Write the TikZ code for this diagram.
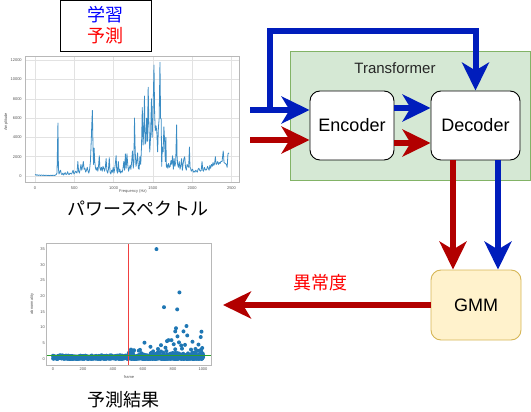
\documentclass[tikz,border=0pt]{standalone}
\usepackage{fontspec}
\setmainfont{Liberation Sans}
\newfontfamily\jp{Noto Sans CJK JP}
\usetikzlibrary{arrows.meta}
\definecolor{bluec}{HTML}{001DBC}
\definecolor{redc}{HTML}{B20000}
\definecolor{trfill}{HTML}{D5E8D4}
\definecolor{trdraw}{HTML}{82B366}
\definecolor{gfill}{HTML}{FFF2CC}
\definecolor{gdraw}{HTML}{D6B656}
\definecolor{mplblue}{HTML}{1F77B4}
\definecolor{mplgreen}{HTML}{2CA02C}
\definecolor{mplred}{HTML}{F04040}
\definecolor{linec}{HTML}{3A8CC4}
\definecolor{gridc}{HTML}{E2E2E2}
\definecolor{framec}{HTML}{B8B8B8}
\definecolor{tickc}{HTML}{555555}
\tikzset{
  flow/.style={line width=6pt, -{Stealth[length=28pt,width=27pt,inset=8pt]}},
  block/.style={draw=black, fill=white, rounded corners=10pt, line width=0.9pt,
    font=\fontsize{18}{20}\selectfont, inner sep=0pt},
  tick/.style={font=\fontsize{4}{5}\selectfont, text=tickc, inner sep=0.5pt},
  jptext/.style={font=\jp\fontsize{18}{20}\selectfont, inner sep=0pt},
  dot/.style={fill=mplblue}
}
\begin{document}
\begin{tikzpicture}[x=1pt,y=-1pt]
\useasboundingbox (0,0) rectangle (531,412);
% legend
\node[draw=black, line width=0.9pt, minimum width=91pt, minimum height=51pt, inner sep=0pt,
  align=center, font=\jp\fontsize{18}{22}\selectfont] (legend) at (105.5,25.5)
  {\textcolor{blue}{学習}\\[-1pt]\textcolor{red}{予測}};
% ---------- spectrum plot ----------
\begin{scope}[shift={(35,176)}, x=0.0786pt, y=0.00965pt]
  \foreach \f in {0,500,...,2500} \draw[gridc, line width=0.6pt] (\f,-622) -- (\f,12435);
  \foreach \a in {0,2000,...,12000} \draw[gridc, line width=0.6pt] (-127,\a) -- (2595,\a);
  \foreach \f in {0,500,...,2500} \node[tick, anchor=north] at (\f,-1000) {\f};
  \foreach \a in {0,2000,...,12000} \node[tick, anchor=east] at (-160,\a) {\a};
  \draw[linec, line width=0.8pt, line join=round]
  (0,100)--(10,150)--(20,80)--(30,120)--(40,60)--(50,100)--(60,90)--(70,50)--(80,110)--(90,70)--(100,60)--(110,100)--(120,40)--(130,80)--(140,60)--(150,90)--(160,50)--(170,70)--(180,40)--(190,60)--(200,80)--(210,50)--(220,70)--(230,60)--(240,90)--(250,50)--(260,100)--(270,150)--(280,300)--(292,5500)--(298,800)--(305,200)--(315,400)--(325,600)--(335,200)--(345,150)--(355,300)--(365,100)--(375,250)--(385,350)--(395,150)--(405,200)--(415,450)--(425,200)--(435,150)--(445,300)--(455,250)--(465,200)--(475,400)--(485,600)--(495,200)--(505,300)--(515,500)--(525,400)--(535,300)--(545,1500)--(555,500)--(565,300)--(575,700)--(585,1200)--(595,600)--(605,1000)--(615,1500)--(625,700)--(635,800)--(645,400)--(655,600)--(665,900)--(675,500)--(685,300)--(695,700)--(705,1500)--(715,3500)--(722,5200)--(730,6800)--(738,3000)--(745,1200)--(752,2900)--(760,1500)--(770,800)--(780,600)--(790,900)--(800,500)--(810,1200)--(818,2100)--(826,800)--(835,600)--(845,900)--(855,500)--(865,1000)--(875,800)--(885,500)--(895,900)--(905,1800)--(915,500)--(925,300)--(935,700)--(945,1900)--(955,400)--(965,200)--(975,600)--(985,400)--(995,900)--(1005,300)--(1015,800)--(1025,1500)--(1032,2100)--(1040,600)--(1050,300)--(1060,1500)--(1070,400)--(1080,700)--(1090,300)--(1100,500)--(1110,400)--(1120,800)--(1130,1500)--(1140,600)--(1150,2300)--(1160,800)--(1170,2300)--(1180,1200)--(1190,500)--(1200,800)--(1210,1100)--(1220,700)--(1230,1500)--(1240,2600)--(1250,800)--(1258,1400)--(1266,6000)--(1275,2500)--(1285,1000)--(1295,1500)--(1305,2400)--(1315,800)--(1325,700)--(1335,2000)--(1345,1200)--(1355,3000)--(1365,7100)--(1375,3200)--(1385,5000)--(1393,8300)--(1400,3300)--(1410,3500)--(1420,6000)--(1430,3600)--(1440,9200)--(1450,5000)--(1460,2500)--(1470,4000)--(1482,8000)--(1490,4000)--(1500,6000)--(1514,11500)--(1522,6500)--(1530,4700)--(1540,5200)--(1550,4600)--(1560,2500)--(1570,5000)--(1580,6000)--(1590,11800)--(1598,6000)--(1605,5900)--(1612,1000)--(1620,3000)--(1630,2500)--(1640,5100)--(1650,3500)--(1658,1500)--(1665,4000)--(1672,900)--(1680,1200)--(1690,800)--(1700,1300)--(1710,900)--(1720,1000)--(1730,1600)--(1740,1200)--(1750,2100)--(1760,700)--(1770,1800)--(1780,1000)--(1790,1400)--(1802,5300)--(1808,2000)--(1815,1200)--(1825,900)--(1835,1500)--(1845,700)--(1855,1100)--(1865,1800)--(1875,600)--(1885,1300)--(1895,1800)--(1905,2000)--(1915,900)--(1925,600)--(1935,1200)--(1945,1000)--(1955,900)--(1965,3000)--(1972,900)--(1980,800)--(1988,500)--(1995,600)--(2005,700)--(2015,400)--(2025,500)--(2035,400)--(2045,600)--(2055,500)--(2065,400)--(2075,700)--(2085,800)--(2095,600)--(2105,500)--(2115,600)--(2125,1500)--(2135,600)--(2145,500)--(2155,900)--(2165,700)--(2175,600)--(2185,700)--(2195,1000)--(2205,800)--(2215,600)--(2225,1100)--(2235,800)--(2245,1200)--(2255,1000)--(2265,1400)--(2275,1100)--(2285,1300)--(2295,2000)--(2305,1200)--(2315,1300)--(2325,1500)--(2335,1200)--(2345,1400)--(2355,1300)--(2365,1500)--(2380,1500)--(2395,2600)--(2405,1400)--(2420,1300)--(2435,1200)--(2445,900)--(2455,2300)--(2468,2400);
\end{scope}
\draw[framec, line width=0.8pt] (25,56) rectangle (239,182);
\node[tick, anchor=north] (freq) at (133,189) {Frequency (Hz)};
\node[tick, rotate=90] (ampl) at (6,122) {Amplitude};
\node[jptext] (spec) at (138,209) {パワースペクトル};
% ---------- scatter plot ----------
\begin{scope}[shift={(53,359)}, x=0.15pt, y=3.14pt]
  \foreach \v in {0,5,...,35} \node[tick, anchor=east] at (-50,\v) {\v};
  \foreach \f in {0,200,...,1000} \node[tick, anchor=north] at (\f,-2.6) {\f};
  \pgfmathsetseed{7}
  \foreach \i in {0,3,...,498} {
    \pgfmathsetmacro\v{rnd*1.2}
    \fill[dot] (\i,\v) circle[radius=2pt];
    \pgfmathsetmacro\w{rnd*0.9}
    \fill[dot] (\i+1.5,\w) circle[radius=2pt];
  }
  \foreach \i in {500,502,...,1000} {
    \pgfmathsetmacro\v{rnd*rnd*3}
    \fill[dot] (\i,\v) circle[radius=2pt];
    \pgfmathsetmacro\w{rnd*1.4}
    \fill[dot] (\i+1,\w) circle[radius=2pt];
  }
  \foreach \f/\v in {690/35,740/16.5,828/15.8,843/21.2,820/9.8,815/8.8,870/8.8,890/10.5,830/7.2,895/7.5,
    610/5.2,650/3.9,720/4.4,760/5.7,770/6,790/6,805/4.7,840/5.3,855/4.3,880/4.5,930/5.5,
    970/4.6,985/7,990/8.7,995/3.5,920/3,950/3.2,520/3,540/2.8,580/2.9,700/3.2,860/3.3,750/3.6,815/3.1}
    \fill[dot] (\f,\v) circle[radius=2pt];
  \draw[mplred, line width=0.8pt] (500,-1.9) -- (500,36.6);
  \draw[mplgreen, line width=0.9pt] (-47,1) -- (1053,1);
\end{scope}
\draw[framec, line width=0.8pt] (46,243) rectangle (211,365);
\node[tick] (frame) at (129,377) {frame};
\node[tick, rotate=90] (abnl) at (32,304) {abnormality};
\node[jptext] (res) at (123,400) {予測結果};
% ---------- transformer ----------
\node[draw=trdraw, fill=trfill, line width=0.9pt, minimum width=240.5pt, minimum height=129pt,
  inner sep=0pt] (tr) at (410.25,115.5) {};
\node[font=\fontsize{15}{17}\selectfont, text=black!85, inner sep=0pt] (trt) at (395,68) {Transformer};
\node[block, minimum width=84pt, minimum height=69pt] (enc) at (352,125.5) {Encoder};
\node[block, minimum width=89pt, minimum height=69pt] (dec) at (475.5,125.5) {Decoder};
\node[block, draw=gdraw, fill=gfill, minimum width=90pt, minimum height=70pt] (gmm) at (476,305) {GMM};
% ---------- connectors ----------
\coordinate (inB) at (250,110);
\coordinate (inR) at (250,140);
\coordinate (split) at (270,110);
\coordinate (topc) at (270,31);
\coordinate (outc) at (223,305);
\draw[flow, bluec] (inB) -- ([yshift=15.5pt]enc.west);
\draw[flow, bluec] (split) -- (topc) -| (dec.north);
\draw[flow, redc] (inR) -- ([yshift=-14.5pt]enc.west);
\draw[flow, bluec] ([yshift=17.5pt]enc.east) -- ([yshift=17.5pt]dec.west);
\draw[flow, redc] ([yshift=-17.5pt]enc.east) -- ([yshift=-17.5pt]dec.west);
\draw[flow, redc] ([xshift=-22.5pt]dec.south) -- ([xshift=-23pt]gmm.north);
\draw[flow, bluec] ([xshift=22.5pt]dec.south) -- ([xshift=22pt]gmm.north);
\draw[flow, redc] (gmm.west) -- (outc);
\node[jptext, text=red] (abn) at (320,283) {異常度};
\end{tikzpicture}
\end{document}
